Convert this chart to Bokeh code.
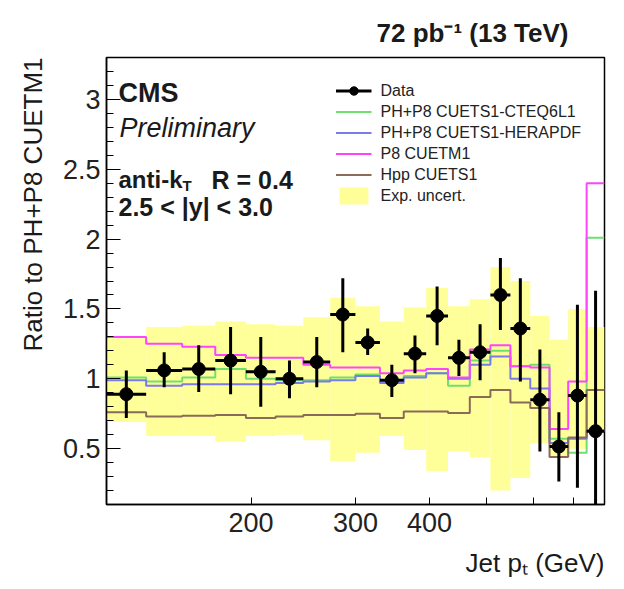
import numpy as np
from bokeh.plotting import figure
from bokeh.models import (Range1d, FixedTicker, SingleIntervalTicker, Label, Legend,
                          LegendItem, CustomJSTickFormatter, Title)
from bokeh.embed import file_html
from bokeh.resources import INLINE

# ---------------- data ----------------
pt_edges = [114, 133, 153, 174, 196, 220, 245, 272, 300, 330, 362, 395,
            430, 468, 507, 548, 592, 638, 686, 737, 790]

data_ratio = [0.89, 1.06, 1.07, 1.13, 1.05, 1.00, 1.12, 1.46, 1.26, 0.99,
              1.18, 1.45, 1.15, 1.19, 1.60, 1.36, 0.85, 0.515, 0.88, 0.625]
data_hi = [1.06, 1.19, 1.24, 1.37, 1.30, 1.13, 1.30, 1.72, 1.36, 1.10,
           1.31, 1.66, 1.28, 1.39, 1.865, 1.72, 1.21, 0.76, 1.53, 1.63]
data_lo = [0.72, 0.94, 0.905, 0.89, 0.80, 0.86, 0.94, 1.19, 1.17, 0.87,
           1.04, 1.24, 1.02, 0.99, 1.35, 0.98, 0.48, 0.265, 0.22, 0.0]

band_hi = [1.29, 1.37, 1.38, 1.41, 1.39, 1.38, 1.44, 1.58, 1.52, 1.41,
           1.51, 1.65, 1.52, 1.57, 1.80, 1.70, 1.45, 1.28, 1.50, 1.37]
band_lo = [0.69, 0.59, 0.59, 0.55, 0.59, 0.60, 0.56, 0.41, 0.47, 0.59,
           0.49, 0.34, 0.48, 0.44, 0.20, 0.29, 0.54, 0.44, 0.50, 0.62]

cteq6l1 = [1.01, 0.98, 1.01, 1.07, 1.00, 0.99, 0.99, 1.01, 1.03, 0.99,
           1.02, 1.04, 0.95, 1.13, 1.20, 1.09, 1.10, 0.57, 0.47, 2.01]
herapdf = [0.99, 0.95, 0.96, 0.96, 0.96, 0.97, 0.98, 0.99, 1.02, 0.97,
           1.01, 1.04, 1.00, 1.10, 1.16, 1.00, 0.93, 0.54, 0.57, 0.63]
cuetm1 = [1.30, 1.25, 1.23, 1.17, 1.15, 1.15, 1.10, 1.08, 1.08, 1.04,
          1.06, 1.07, 1.01, 1.21, 1.24, 1.09, 1.08, 0.64, 0.98, 2.40]
hpp_cuets1 = [0.76, 0.73, 0.735, 0.74, 0.72, 0.73, 0.74, 0.74, 0.75, 0.72,
              0.765, 0.765, 0.755, 0.87, 0.92, 0.83, 0.79, 0.44, 0.58, 0.92]

x_major_ticks = [200, 300, 400]
x_minor_ticks = [500, 600, 700]

# ---------------- geometry ----------------
W, H = 620, 588
FL, FR, FT, FB = 106, 604, 57, 507      # frame edges in canvas pixels
XMIN, XMAX, YMIN, YMAX = 114, 790, 0.1, 3.3


def px2x(px):
    lo, hi = np.log10(XMIN), np.log10(XMAX)
    return 10 ** (lo + (px - FL) / (FR - FL) * (hi - lo))


def px2y(py):
    return YMIN + (FB - py) / (FB - FT) * (YMAX - YMIN)


p = figure(width=W, height=H, x_axis_type="log",
           x_range=Range1d(XMIN, XMAX), y_range=Range1d(YMIN, YMAX),
           output_backend="svg", toolbar_location=None,
           min_border_left=FL, min_border_right=W - FR,
           min_border_top=FT, min_border_bottom=H - FB)
p.grid.visible = False
p.outline_line_color = "black"
p.outline_line_width = 1.5
p.background_fill_color = "white"

edges = np.array(pt_edges, dtype=float)
left, right = edges[:-1], edges[1:]
centers = np.sqrt(left * right)

# experimental uncertainty band
band = p.quad(left=left, right=right, bottom=band_lo, top=band_hi,
              fill_color="#ffff99", line_color=None)


def step(vals, color):
    y = list(vals) + [vals[-1]]
    return p.step(x=list(edges), y=y, mode="after", line_color=color, line_width=2)


r_green = step(cteq6l1, "#6fe06f")
r_blue = step(herapdf, "#7a7ae8")
r_pink = step(cuetm1, "#ff44ff")
r_brown = step(hpp_cuets1, "#8a6a58")

# data
p.segment(x0=centers, y0=data_lo, x1=centers, y1=data_hi, line_color="black", line_width=3)
r_hbar = p.segment(x0=left, y0=data_ratio, x1=right, y1=data_ratio,
                   line_color="black", line_width=3)
r_pts = p.scatter(x=centers, y=data_ratio, size=13, marker="circle",
                  fill_color="black", line_color="black")

# axes
FONT = "Liberation Sans"
p.xaxis.ticker = FixedTicker(ticks=x_major_ticks, minor_ticks=x_minor_ticks)
p.xaxis.formatter = CustomJSTickFormatter(code="return Math.round(tick).toString();")
p.yaxis.ticker = SingleIntervalTicker(interval=0.5, num_minor_ticks=5)
p.yaxis.formatter = CustomJSTickFormatter(code="return (Math.round(tick*10)/10).toString();")
for ax in (p.xaxis, p.yaxis):
    ax.major_label_text_font = FONT
    ax.major_label_text_font_size = "27px"
    ax.major_label_text_color = "#222222"
    ax.axis_line_color = "black"
    ax.axis_line_width = 1.5
    ax.major_tick_out = 0
    ax.minor_tick_out = 0
    ax.major_tick_line_color = "black"
    ax.minor_tick_line_color = "black"
p.xaxis.major_tick_in = 7
p.xaxis.minor_tick_in = 7
p.xaxis.major_label_standoff = 8
p.yaxis.major_tick_in = 14
p.yaxis.minor_tick_in = 7
p.yaxis.major_label_standoff = 6

# legend
legend = Legend(items=[
    LegendItem(label="Data", renderers=[r_hbar, r_pts]),
    LegendItem(label="PH+P8 CUETS1-CTEQ6L1", renderers=[r_green]),
    LegendItem(label="PH+P8 CUETS1-HERAPDF", renderers=[r_blue]),
    LegendItem(label="P8 CUETM1", renderers=[r_pink]),
    LegendItem(label="Hpp CUETS1", renderers=[r_brown]),
    LegendItem(label="Exp. uncert.", renderers=[band]),
], location="top_right", margin=20, padding=3, spacing=0,
    glyph_width=36, glyph_height=21, label_height=21, label_standoff=9,
    label_text_font=FONT, label_text_font_size="16px", label_text_color="#222222",
    border_line_alpha=0, background_fill_alpha=0)
p.add_layout(legend)


def lab(px, py, text, size, style="bold", align="left"):
    p.add_layout(Label(x=px2x(px), y=px2y(py), text=text, text_font=FONT,
                       text_font_size=f"{size}px", text_font_style=style,
                       text_align=align, text_baseline="alphabetic",
                       text_color="#1a1a1a"))


# texts inside the frame
lab(118, 93, "CMS", 27)
lab(119, 128, "Preliminary", 27, style="italic")
lab(118, 180, "anti-k", 24)
lab(182, 186, "T", 15)
lab(211, 180, "R = 0.4", 25)
lab(118, 207, "2.5 < |y| < 3.0", 25)

# header and axis titles (side panels)
p.add_layout(Title(text="72 pb\u207b\u00b9 (13 TeV)", align="right", offset=36,
                   standoff=20,
                   text_font=FONT, text_font_size="26px", text_font_style="bold",
                   text_color="#1a1a1a"), "above")
p.add_layout(Title(text="Ratio to PH+P8 CUETM1", align="right", standoff=23,
                   text_font=FONT, text_font_size="26px", text_font_style="normal",
                   text_color="#1a1a1a"), "left")
p.add_layout(Title(text="Jet p\u209c (GeV)", align="right", standoff=22,
                   text_font=FONT, text_font_size="26px", text_font_style="normal",
                   text_color="#1a1a1a"), "below")

open("out.html", "w").write(file_html(p, INLINE))
